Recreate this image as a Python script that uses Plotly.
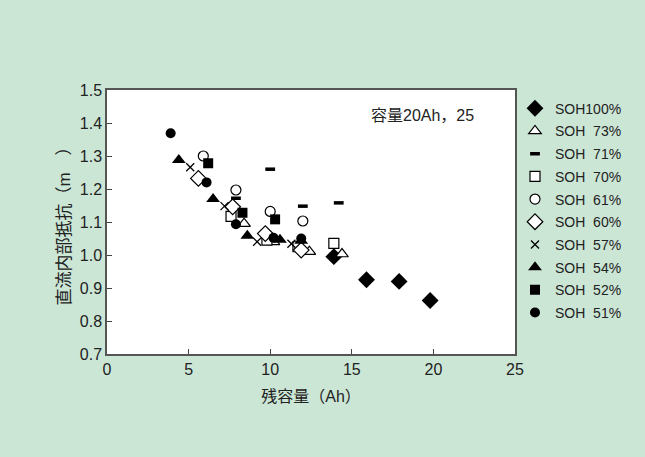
import plotly.graph_objects as go

soh100_x = [13.9, 15.9, 17.9, 19.8]
soh100_y = [0.995, 0.925, 0.92, 0.862]
soh73_x = [8.4, 10.2, 12.4, 14.4]
soh73_y = [1.095, 1.04, 1.01, 1.003]
soh71_x = [7.9, 10.0, 12.0, 14.2]
soh71_y = [1.172, 1.26, 1.148, 1.158]
soh70_x = [7.6, 9.8, 11.7, 13.9]
soh70_y = [1.117, 1.045, 1.025, 1.035]
soh61_x = [5.9, 7.9, 10.0, 12.0]
soh61_y = [1.30, 1.197, 1.132, 1.103]
soh60_x = [5.6, 7.7, 9.7, 11.9]
soh60_y = [1.232, 1.146, 1.065, 1.015]
soh57_x = [5.1, 7.2, 9.2, 11.3]
soh57_y = [1.266, 1.148, 1.04, 1.034]
soh54_x = [4.4, 6.5, 8.6, 10.6, 11.9]
soh54_y = [1.288, 1.17, 1.058, 1.046, 1.043]
soh52_x = [6.2, 8.3, 10.3]
soh52_y = [1.278, 1.128, 1.108]
soh51_x = [3.9, 6.1, 7.9, 10.2, 11.9]
soh51_y = [1.369, 1.22, 1.093, 1.052, 1.05]

names = ["SOH100%", "SOH\u00a0\u00a073%", "SOH\u00a0\u00a071%", "SOH\u00a0\u00a070%",
         "SOH\u00a0\u00a061%", "SOH\u00a0\u00a060%", "SOH\u00a0\u00a057%", "SOH\u00a0\u00a054%",
         "SOH\u00a0\u00a052%", "SOH\u00a0\u00a051%"]
xs = [soh100_x, soh73_x, soh71_x, soh70_x, soh61_x, soh60_x, soh57_x, soh54_x, soh52_x, soh51_x]
ys = [soh100_y, soh73_y, soh71_y, soh70_y, soh61_y, soh60_y, soh57_y, soh54_y, soh52_y, soh51_y]

styles = [
    dict(symbol="diamond", size=13, color="black", line=dict(width=0)),
    dict(symbol="triangle-up", size=11, color="white", line=dict(color="black", width=1.2)),
    dict(symbol="line-ew", size=7, color="black", line=dict(color="black", width=3.5)),
    dict(symbol="square", size=10, color="white", line=dict(color="black", width=1.2)),
    dict(symbol="circle", size=10, color="white", line=dict(color="black", width=1.2)),
    dict(symbol="diamond", size=12, color="white", line=dict(color="black", width=1.2)),
    dict(symbol="x-thin", size=8, color="black", line=dict(color="black", width=1.3)),
    dict(symbol="triangle-up", size=12, color="black", line=dict(width=0)),
    dict(symbol="square", size=10, color="black", line=dict(width=0)),
    dict(symbol="circle", size=10, color="black", line=dict(width=0)),
]

font_fam = "Arial, 'Liberation Sans', 'Noto Sans CJK JP', sans-serif"
fig = go.Figure()
for i, (n, x, y, s) in enumerate(zip(names, xs, ys, styles)):
    fig.add_trace(go.Scatter(x=x, y=y, mode="markers", name=n, marker=s,
                             legendgroup=f"g{i}"))

fig.update_layout(
    width=645, height=457,
    paper_bgcolor="#cce6d6", plot_bgcolor="white",
    margin=dict(l=107, r=130, t=90, b=103),
    font=dict(family=font_fam, size=16, color="#222"),
    showlegend=True,
    legend=dict(x=1.0, y=0.99, xanchor="left", yanchor="top",
                bgcolor="rgba(0,0,0,0)", font=dict(size=14, color="#222"),
                tracegroupgap=1.5),
    annotations=[dict(x=0.642, y=0.905, xref="paper", yref="paper", xanchor="left",
                      yanchor="middle", text="容量20Ah，25", showarrow=False,
                      font=dict(size=16, color="#222"))],
)
fig.update_xaxes(range=[0, 25], dtick=5, ticks="inside", ticklen=5, tickcolor="#444",
                 showline=True, linecolor="#555", linewidth=1.5, mirror=True,
                 showgrid=False, zeroline=False,
                 title=dict(text="残容量（Ah）", standoff=14, font=dict(size=16)))
fig.update_yaxes(range=[0.7, 1.5], dtick=0.1, tickformat=".1f", ticks="inside", ticklen=5,
                 tickcolor="#444", showline=True, linecolor="#555", linewidth=1.5, mirror=True,
                 showgrid=False, zeroline=False,
                 title=dict(text="直流内部抵抗（m　）", standoff=5, font=dict(size=17)))

fig.write_html("out.html", config={"displayModeBar": False},
               post_script="document.body.style.margin='0';document.body.style.overflow='hidden';")
